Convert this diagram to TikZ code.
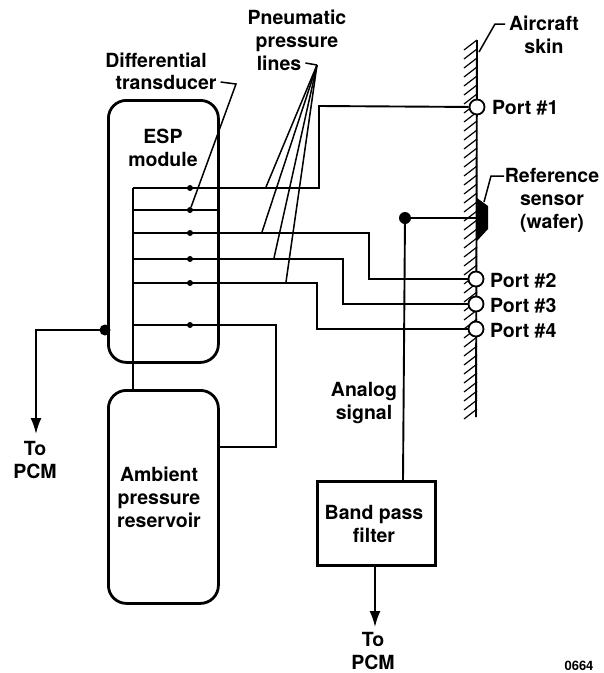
\documentclass[tikz,border=0pt]{standalone}
\usepackage{fontspec}
\setmainfont{TeX Gyre Heros}
\usetikzlibrary{arrows.meta}

\tikzset{
    label/.style={font=\bfseries\fontsize{19.5}{23}\selectfont, inner sep=0pt, align=center},
    wire/.style={line width=1.9pt},
    leader/.style={line width=1.5pt},
    tank/.style={draw, line width=2.8pt, rounded corners=18pt, minimum width=110pt, anchor=north west, inner sep=0pt},
    filterbox/.style={draw, line width=2.8pt, minimum width=118pt, minimum height=84pt, anchor=north west, inner sep=0pt},
    port/.style={circle, draw, fill=white, line width=1.8pt, minimum size=15pt, inner sep=0pt},
    tap/.style={circle, fill=black, minimum size=6pt, inner sep=0pt},
    junction/.style={circle, fill=black, minimum size=12pt, inner sep=0pt},
    toarrow/.style={wire, -{Latex[length=16pt, width=11pt]}}
}

\begin{document}
\begin{tikzpicture}[x=1pt, y=-1pt]

        % picture size, same as the reference
        \useasboundingbox (0, 0) rectangle (604, 673);

        % aircraft skin
        \coordinate (skintop) at (477, 40);
        \coordinate (skinbottom) at (476, 417);
        \draw[wire] (skintop) -- (skinbottom);
        \foreach \y in {40, 49, ..., 409}
            \draw[line width=1.2pt] (477, \y) -- (464, \y + 10);

        % the two tanks
        \node[tank, minimum height=262pt] (esp) at (107, 99) {};
        \node[tank, minimum height=213pt] (reservoir) at (107, 389) {};
        \node[filterbox] (filter) at (316, 480) {};

        % ports and sensor
        \node[port] (port1) at (477, 107) {};
        \node[port] (port2) at (476, 279) {};
        \node[port] (port3) at (476, 304) {};
        \node[port] (port4) at (476, 329) {};
        \fill (477, 198) coordinate (wafer) -- (488, 206) -- (488, 229) -- (477, 241) -- cycle;
        \coordinate (wafermid) at (477, 218);

        % manifold inside the module
        \coordinate (bus) at (133, 188);
        \coordinate (bustank) at (133, 389);
        \coordinate (wall2) at (217, 210);
        \draw[wire] (bus) -- (bustank);
        \draw[wire] (133, 210) -- (wall2);

        % pressure lines, module to port
        \draw[wire] (bus) -- (319, 188) -- (319, 106) -- (port1);
        \draw[wire] (133, 233) -- (369, 233) -- (369, 279) -- (port2);
        \draw[wire] (133, 259) -- (343, 259) -- (343, 304) -- (port3);
        \draw[wire] (133, 283) -- (317, 283) -- (317, 329) -- (port4);
        \draw[wire] (133, 325) -- (276, 325) -- (276, 447) -- (217, 447);

        % small dots on the lines
        \foreach \y [count=\i] in {188, 210, 233, 259, 283, 325}
            \node[tap] (tap\i) at (190, \y) {};

        % signal from the sensor
        \node[junction] (sensordot) at (405, 218) {};
        \draw[wire] (sensordot) -- (wafermid);
        \draw[wire] (sensordot.center) -- (403, 480);
        \coordinate (filterout) at (375, 564);
        \coordinate (filtertip) at (375, 627);
        \draw[toarrow] (filterout) -- (filtertip);

        % signal from the module
        \node[junction, minimum size=11pt] (espdot) at (105, 330) {};
        \draw[toarrow] (espdot.center) -- (36, 330) -- (36, 434);

        % text
        \node[label] (diff) at (156, 60) {Differential};
        \node[label] (trans) at (166, 82) {transducer};
        \node[label] (pneu) at (297, 31) {Pneumatic\\pressure};
        \node[label] (lines) at (279, 63) {lines};
        \node[label] at (163, 148) {ESP\\module};
        \node[label] at (159, 497) {Ambient\\pressure\\reservoir};
        \node[label] at (35, 460) {To\\PCM};
        \node[label] (skin) at (544, 35) {Aircraft\\skin};
        \node[label, anchor=west] at (492, 108) {Port \#1};
        \node[label, anchor=west] at (490, 281) {Port \#2};
        \node[label, anchor=west] at (490, 306) {Port \#3};
        \node[label, anchor=west] at (490, 331) {Port \#4};
        \node[label] (ref) at (552, 200) {Reference\\sensor\\(wafer)};
        \node[label] at (364, 403) {Analog\\signal};
        \node[label] at (374, 524) {Band pass\\filter};
        \node[label] at (373, 651) {To\\PCM};
        \node[font=\bfseries\fontsize{13}{15}\selectfont, inner sep=0pt] at (579, 666) {0664};

        % leaders
        \coordinate (diffbend) at (236, 84);
        \coordinate (pneuapex) at (317, 65);
        \draw[leader] (trans.east) ++(4, 0) -- (diffbend) -- (tap2);
        \draw[leader] (lines.east) ++(4, 0) -- (pneuapex);
        \draw[leader] (pneuapex) -- (266, 187);
        \draw[leader] (pneuapex) -- (262, 232);
        \draw[leader] (pneuapex) -- (274, 258);
        \draw[leader] (pneuapex) -- (286, 282);
        \draw[leader] (505, 24) -- (495, 24) -- (479, 52);
        \draw[leader] (504, 176) -- (491, 176) -- (484, 202);

    \end{tikzpicture}
\end{document}
